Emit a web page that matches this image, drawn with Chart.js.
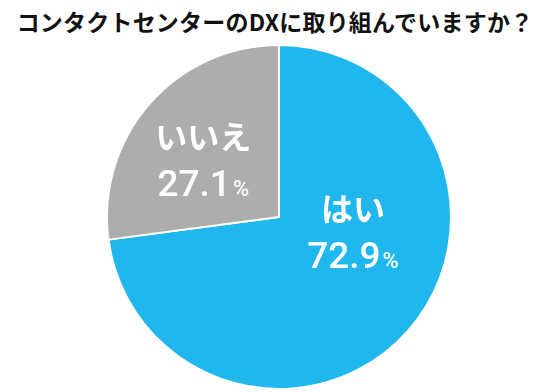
<!DOCTYPE html>
<html lang="ja">
<head>
  <meta charset="UTF-8">
  <title>コンタクトセンターのDX</title>
  <script src="https://cdn.jsdelivr.net/npm/chart.js"></script>
  <style>
    html, body { margin: 0; padding: 0; background: #fff; }
    #wrap { position: relative; width: 550px; height: 392px; }
    h1 {
      position: absolute; left: 0; top: 4px; width: 550px; margin: 0;
      text-align: center; font: bold 23px "Noto Sans CJK JP", sans-serif; color: #111;
      letter-spacing: 0.2px;
    }
    canvas { position: absolute; left: 0; top: 0; }
  </style>
</head>
<body>
  <div id="wrap">
    <h1>コンタクトセンターのDXに取り組んでいますか？</h1>
    <canvas id="pie" width="550" height="392"></canvas>
  </div>

  <script>
    // data
    const labels = ['はい', 'いいえ'];
    const values = [72.9, 27.1];
    const colors = ['#1fb7ed', '#adadad'];
    // label anchor per slice, as fraction of radius from the centre
    const labelPos = [[0.43, 0.10], [-0.44, -0.32]];

    const sliceLabels = {
      id: 'sliceLabels',
      afterDatasetsDraw(chart) {
        const ctx = chart.ctx;
        const arcs = chart.getDatasetMeta(0).data;
        const numFont = '500 37px Roboto';
        const pctFont = '500 22px Roboto';
        ctx.save();
        ctx.fillStyle = '#fff';
        arcs.forEach((arc, i) => {
          const r = arc.outerRadius;
          const x = arc.x + labelPos[i][0] * r;
          const y = arc.y + labelPos[i][1] * r;
          ctx.textAlign = 'center';
          ctx.textBaseline = 'middle';
          ctx.font = 'bold 32px "Noto Sans CJK JP"';
          ctx.fillText(labels[i], x, y - 25);

          const num = values[i].toFixed(1);
          ctx.textBaseline = 'alphabetic';
          ctx.font = numFont;
          const wNum = ctx.measureText(num).width;
          ctx.font = pctFont;
          const wPct = ctx.measureText('%').width;
          const left = x - (wNum + wPct + 2) / 2;
          ctx.textAlign = 'left';
          ctx.font = numFont;
          ctx.fillText(num, left, y + 34);
          ctx.font = pctFont;
          ctx.fillText('%', left + wNum + 2, y + 34);
        });
        ctx.restore();
      }
    };

    new Chart(document.getElementById('pie'), {
      type: 'pie',
      data: {
        labels: labels,
        datasets: [{
          data: values,
          backgroundColor: colors,
          borderColor: '#fff',
          borderWidth: 2
        }]
      },
      options: {
        responsive: false,
        animation: false,
        layout: { padding: { top: 44, bottom: 2, left: 8, right: 0 } },
        plugins: {
          legend: { display: false },
          tooltip: { enabled: false },
          title: { display: false }
        }
      },
      plugins: [sliceLabels]
    });
  </script>
</body>
</html>
